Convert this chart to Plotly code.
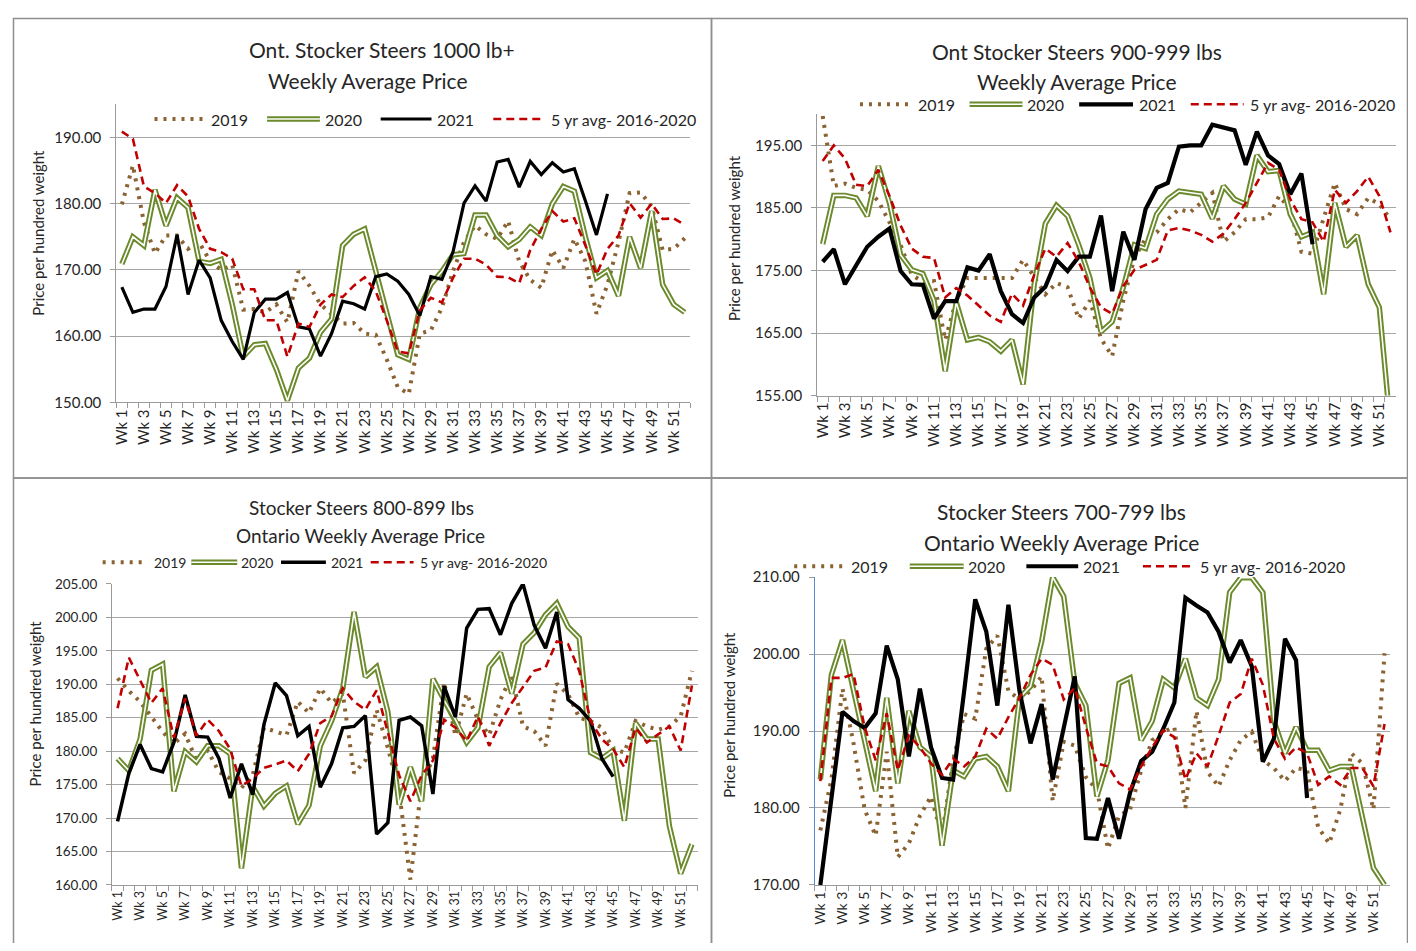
import plotly.graph_objects as go

# The page keeps the browser's 8px body margin: the figure occupies 1400x935 starting at (8, 8)
W, H = 1400, 935
OFF = 8

weeks = [f"Wk {i}" for i in range(1, 53)]
week_ticktext = [w if i % 2 == 0 else "" for i, w in enumerate(weeks)]

# ---------------- Panel 1: Ont. Stocker Steers 1000 lb+ ----------------
p1_2019 = [179.9, 185.8, 177.2, 172.5, 175.2, 175.2, 173.2, 174.2, 171.3, 170.0, 170.8, 164.0, 164.1,
           163.6, 164.8, 162.1, 169.8, 167.6, 164.8, 163.4, 161.9, 162.0, 160.4, 160.2, 156.5, 152.3,
           151.3, 160.4, 160.9, 164.3, 169.8, 174.2, 176.7, 175.4, 174.7, 177.4, 171.3, 168.5, 167.3,
           173.0, 170.3, 174.7, 171.3, 163.4, 167.8, 174.2, 181.6, 181.7, 179.6, 173.0, 173.2, 174.8]
p1_2020 = [170.9, 175.0, 173.7, 182.1, 176.7, 180.9, 179.4, 171.3, 171.0, 171.6, 164.8, 156.9, 158.7,
           158.9, 155.0, 150.3, 155.2, 156.7, 160.6, 162.6, 173.7, 175.4, 176.2, 169.8, 163.4, 157.2,
           156.5, 164.3, 167.8, 169.8, 172.3, 172.5, 178.3, 178.3, 175.2, 173.5, 174.6, 176.5, 175.2,
           180.0, 182.6, 181.9, 175.0, 168.8, 169.9, 166.1, 175.0, 170.3, 178.9, 167.8, 164.8, 163.6]
p1_2021 = [167.4, 163.6, 164.1, 164.1, 167.5, 175.3, 166.3, 171.5, 168.8, 162.4, 159.2, 156.5, 163.6,
           165.6, 165.6, 166.6, 161.4, 161.1, 157.0, 160.4, 165.3, 164.9, 164.1, 169.0, 169.4, 168.3,
           166.3, 163.1, 169.0, 168.6, 172.7, 180.1, 182.7, 180.4, 186.3, 186.7, 182.5, 186.4, 184.4,
           186.2, 184.8, 185.3, 180.4, 175.3, 181.5]
p1_avg = [190.9, 189.8, 182.6, 181.6, 180.1, 182.8, 181.1, 176.2, 173.2, 172.7, 171.7, 167.1, 167.1,
          162.4, 162.4, 156.9, 161.9, 161.4, 164.8, 166.3, 165.9, 167.6, 168.9, 166.8, 162.4, 157.7,
          157.4, 163.9, 165.8, 165.1, 168.8, 171.7, 171.7, 170.8, 169.0, 168.9, 168.0, 173.0, 176.2,
          178.9, 177.3, 177.8, 173.7, 169.3, 173.2, 175.2, 180.1, 177.9, 180.0, 177.7, 177.8, 176.8]

# ---------------- Panel 2: Ont Stocker Steers 900-999 lbs ----------------
p2_2019 = [199.7, 188.5, 188.9, 188.2, 187.9, 186.1, 182.7, 179.1, 174.3, 173.2, 173.3, 163.9, 170.2,
           173.8, 173.8, 173.8, 173.8, 173.8, 176.7, 173.8, 171.2, 173.0, 172.3, 167.3, 170.2, 164.1,
           161.3, 170.2, 177.0, 180.1, 181.1, 183.2, 184.8, 184.3, 185.8, 187.4, 179.6, 181.1, 183.2,
           183.2, 183.5, 186.9, 184.8, 178.0, 177.7, 183.2, 189.0, 184.8, 184.0, 186.6, 185.6, 183.2]
p2_2020 = [179.2, 187.0, 187.0, 186.6, 183.7, 191.7, 185.8, 177.5, 175.1, 174.5, 170.2, 158.9, 169.9,
           163.9, 164.3, 163.6, 162.1, 163.9, 156.8, 172.8, 182.5, 185.4, 183.7, 179.1, 173.8, 165.2,
           166.8, 172.3, 179.1, 178.5, 184.0, 186.4, 187.7, 187.4, 187.2, 183.3, 188.5, 186.4, 185.6,
           193.4, 190.8, 191.0, 184.0, 180.4, 181.1, 171.2, 185.8, 178.8, 180.6, 172.8, 169.1, 150.0]
p2_2021 = [176.4, 178.4, 172.8, 175.7, 178.8, 180.4, 181.7, 174.9, 172.8, 172.7, 167.3, 170.1, 170.1,
           175.5, 175.0, 177.6, 171.7, 168.0, 166.6, 170.7, 172.4, 176.7, 174.9, 177.2, 177.2, 183.8,
           171.7, 181.2, 176.7, 184.8, 188.2, 189.0, 194.8, 195.0, 195.0, 198.3, 197.9, 197.4, 191.9,
           197.2, 193.4, 192.0, 187.2, 190.5, 179.2]
p2_avg = [192.5, 195.0, 192.9, 188.7, 188.5, 191.1, 186.9, 182.2, 178.5, 177.2, 177.0, 170.7, 172.2,
          171.0, 169.4, 167.8, 166.8, 171.3, 169.4, 174.3, 178.5, 177.2, 179.4, 176.4, 172.3, 169.1,
          168.1, 172.5, 175.1, 175.9, 176.7, 181.4, 181.8, 181.4, 180.7, 179.6, 180.9, 183.2, 185.8,
          189.0, 192.2, 191.1, 186.4, 183.2, 182.7, 179.6, 187.9, 185.8, 187.7, 190.0, 186.9, 181.1]

# ---------------- Panel 3: Stocker Steers 800-899 lbs ----------------
p3_2019 = [190.9, 189.0, 187.4, 185.2, 182.9, 181.1, 182.6, 178.6, 180.1, 176.9, 175.9, 174.5, 176.4,
           183.5, 183.0, 182.4, 187.4, 185.7, 189.4, 187.2, 188.6, 176.7, 178.6, 186.2, 180.5, 174.0,
           160.8, 175.0, 178.9, 190.3, 182.3, 188.6, 184.7, 182.4, 187.7, 191.3, 183.7, 183.0, 180.8,
           190.1, 188.5, 185.0, 184.5, 183.5, 180.3, 179.8, 184.5, 183.7, 183.2, 183.7, 185.2, 192.0]
p3_2020 = [178.9, 177.1, 181.8, 192.1, 193.0, 174.0, 179.9, 178.4, 180.8, 180.8, 179.6, 162.5, 174.7,
           171.8, 173.7, 174.8, 169.1, 171.9, 180.8, 184.5, 189.4, 200.8, 191.1, 192.6, 185.9, 172.0,
           177.6, 172.5, 190.8, 187.6, 184.7, 181.3, 183.5, 192.6, 194.7, 188.6, 196.0, 197.7, 200.4,
           202.1, 198.6, 196.9, 179.8, 178.9, 180.1, 169.6, 184.2, 181.8, 181.8, 168.8, 161.7, 166.1]
p3_2021 = [169.5, 176.7, 181.0, 177.4, 176.9, 181.3, 188.4, 182.2, 182.1, 178.9, 173.0, 178.1, 173.5,
           184.0, 190.2, 188.3, 182.3, 183.7, 174.6, 178.1, 183.5, 183.7, 185.3, 167.6, 169.3, 184.6,
           185.1, 183.8, 173.6, 189.7, 185.1, 198.4, 201.2, 201.3, 197.4, 202.1, 205.0, 198.8, 195.4,
           200.8, 187.7, 186.4, 184.5, 178.9, 176.2]
p3_avg = [186.4, 194.0, 190.6, 187.2, 189.4, 182.0, 187.9, 182.3, 184.7, 183.0, 180.3, 174.8, 175.9,
          177.5, 178.0, 178.6, 177.0, 179.6, 184.2, 185.2, 189.4, 187.4, 186.2, 189.1, 182.8, 176.4,
          172.5, 176.4, 178.6, 184.7, 183.5, 181.5, 185.2, 180.8, 184.2, 187.2, 189.6, 192.0, 192.5,
          196.4, 196.0, 192.0, 184.5, 181.8, 180.3, 177.6, 183.5, 181.3, 182.5, 183.7, 180.1, 189.8]

# ---------------- Panel 4: Stocker Steers 700-799 lbs ----------------
p4_2019 = [177.1, 183.7, 195.5, 188.4, 179.8, 176.4, 187.3, 173.6, 175.4, 179.0, 181.5, 176.4, 186.2,
           192.2, 191.6, 200.7, 202.4, 195.2, 194.1, 195.2, 197.1, 180.9, 188.6, 188.1, 184.0, 182.4,
           174.7, 179.0, 179.8, 184.9, 188.8, 189.9, 190.5, 180.0, 192.6, 184.7, 182.8, 186.2, 188.8,
           189.9, 186.2, 185.2, 183.5, 185.2, 184.9, 177.5, 175.4, 179.8, 187.1, 185.8, 179.8, 200.1]
p4_2020 = [183.7, 197.3, 201.8, 195.2, 188.4, 182.2, 194.3, 183.2, 192.6, 187.9, 186.7, 175.1, 184.9,
           184.1, 186.4, 186.7, 185.4, 182.2, 194.3, 195.8, 201.6, 210.0, 207.5, 196.2, 193.3, 181.5,
           186.2, 196.2, 196.9, 188.8, 191.3, 196.7, 195.6, 199.4, 194.3, 193.3, 196.7, 208.0, 209.9,
           209.9, 208.0, 191.3, 187.1, 190.5, 187.5, 187.5, 184.9, 185.4, 185.4, 179.0, 172.2, 170.0]
p4_2021 = [170.0, 181.0, 192.5, 191.3, 190.4, 192.3, 201.1, 196.7, 186.7, 195.5, 187.9, 183.9, 183.7,
           195.2, 207.1, 202.9, 193.3, 206.4, 195.2, 188.4, 193.5, 183.7, 190.1, 197.1, 176.1, 176.0,
           181.3, 176.0, 182.0, 186.1, 187.3, 190.3, 193.7, 207.3, 206.3, 205.4, 202.9, 198.9, 201.8,
           198.4, 186.0, 189.0, 202.0, 199.2, 181.3]
p4_avg = [183.5, 196.9, 196.9, 197.4, 190.5, 186.2, 192.3, 184.9, 189.4, 187.9, 185.8, 184.3, 186.4,
          185.4, 186.7, 190.3, 189.0, 191.8, 194.3, 197.3, 199.4, 198.6, 194.1, 195.6, 190.5, 185.8,
          185.4, 183.2, 182.4, 185.4, 187.9, 190.1, 189.2, 183.7, 187.1, 185.4, 189.4, 193.7, 194.8,
          199.4, 196.0, 189.0, 186.4, 187.9, 187.1, 183.0, 184.1, 183.0, 185.2, 185.2, 182.8, 190.9]

series_names = ["2019", "2020", "2021", "5 yr avg- 2016-2020"]

C_DOT = "#8B6232"
C_GREEN = "#6B8A2C"
C_RED = "#C00000"
C_BLACK = "#000000"
C_GRID = "#A6A6A6"
C_AXIS = "#9A9A9A"
C_TEXT = "#262626"
FONT = "Lato, Carlito, 'Open Sans', sans-serif"
DOT_DASH = "3px,6px"


def fx(px):
    return (px - OFF) / W


def fy(py):
    return 1 - (py - OFF) / H


panels = [
    dict(data=(p1_2019, p1_2020, p1_2021, p1_avg),
         x=(111.7, 687.7), y=(400, 96.1), yr=(150, 195), dtick=10,
         t1=("Ont. Stocker Steers 1000 lb+", 378, 40), t2=("Weekly Average Price", 364, 72), tsize=21,
         ytitle=(33, 227), tick=15, xtick=15, bw=3.2,
         leg=dict(y=111, size=16, items=[(150, 200, 205), (263, 316, 319), (377, 428, 432), (490, 542, 546)])),
    dict(data=(p2_2019, p2_2020, p2_2021, p2_avg),
         x=(815, 1396), y=(393, 106), yr=(155, 200), dtick=10,
         t1=("Ont Stocker Steers 900-999 lbs", 1076, 42), t2=("Weekly Average Price", 1076, 73), tsize=21,
         ytitle=(731, 232), tick=15, xtick=15, bw=4.2,
         leg=dict(y=96, size=16, items=[(858, 910, 914), (968, 1021, 1024), (1078, 1132, 1136), (1190, 1243, 1247)])),
    dict(data=(p3_2019, p3_2020, p3_2021, p3_avg),
         x=(107.3, 695), y=(892, 585), yr=(160, 205), dtick=5,
         t1=("Stocker Steers 800-899 lbs", 358, 507), t2=("Ontario Weekly Average Price", 357, 536), tsize=19,
         ytitle=(30, 707), tick=13.5, xtick=12.5, bw=3.5,
         leg=dict(y=563, size=14, items=[(98, 143, 147), (187, 233, 235), (277, 322, 325), (367, 410, 414)])),
    dict(data=(p4_2019, p4_2020, p4_2021, p4_avg),
         x=(812.7, 1390), y=(892, 578), yr=(170, 210), dtick=10,
         t1=("Stocker Steers 700-799 lbs", 1060, 511), t2=("Ontario Weekly Average Price", 1060, 543), tsize=21,
         ytitle=(727, 718), tick=15, xtick=14, bw=4.2,
         leg=dict(y=567, size=16, items=[(792, 842, 847), (908, 962, 964), (1025, 1077, 1080), (1142, 1193, 1197)])),
]

fig = go.Figure()
shapes = []
annotations = []

for k, p in enumerate(panels):
    n = "" if k == 0 else str(k + 1)
    xa, ya = "x" + n, "y" + n
    d19, d20, d21, davg = p["data"]

    fig.add_trace(go.Scatter(x=weeks[:len(d19)], y=d19, xaxis=xa, yaxis=ya, mode="lines", name="2019",
                             line=dict(color=C_DOT, width=4, dash=DOT_DASH), showlegend=False))
    fig.add_trace(go.Scatter(x=weeks[:len(d20)], y=d20, xaxis=xa, yaxis=ya, mode="lines", name="2020",
                             line=dict(color=C_GREEN, width=5.5), showlegend=False))
    fig.add_trace(go.Scatter(x=weeks[:len(d20)], y=d20, xaxis=xa, yaxis=ya, mode="lines", name="2020",
                             line=dict(color="#FFFFFF", width=1.6), showlegend=False, hoverinfo="skip"))
    fig.add_trace(go.Scatter(x=weeks[:len(d21)], y=d21, xaxis=xa, yaxis=ya, mode="lines", name="2021",
                             line=dict(color=C_BLACK, width=p["bw"]), showlegend=False))
    fig.add_trace(go.Scatter(x=weeks[:len(davg)], y=davg, xaxis=xa, yaxis=ya, mode="lines",
                             name="5 yr avg- 2016-2020",
                             line=dict(color=C_RED, width=2.6, dash="8px,5px"), showlegend=False))

    x0, x1 = p["x"]
    yb, yt = p["y"]
    y_line = C_AXIS if k != 3 else "#5B8BD0"
    fig.update_layout(**{
        "xaxis" + n: dict(domain=[fx(x0), fx(x1)], anchor=ya, type="category",
                          categoryorder="array", categoryarray=weeks,
                          range=[-0.5, 51.5], tickmode="array", tickvals=weeks, ticktext=week_ticktext,
                          tickangle=-90, tickson="boundaries", ticks="outside", ticklen=5,
                          tickcolor=C_AXIS, showline=True, linecolor=C_AXIS, linewidth=1,
                          showgrid=False, zeroline=False,
                          tickfont=dict(family=FONT, size=p["xtick"], color=C_TEXT)),
        "yaxis" + n: dict(domain=[fy(yb), fy(yt)], anchor=xa, range=list(p["yr"]),
                          tick0=p["yr"][0], dtick=p["dtick"], tickformat=".2f",
                          showgrid=True, gridcolor=C_GRID, gridwidth=1, zeroline=False,
                          showline=True, linecolor=y_line, linewidth=1,
                          ticks="outside", ticklen=5, tickcolor=C_AXIS, ticklabelstandoff=6,
                          tickfont=dict(family=FONT, size=p["tick"], color=C_TEXT)),
    })

    # titles
    for txt, cx, cy in (p["t1"], p["t2"]):
        annotations.append(dict(text=txt, x=fx(cx), y=fy(cy), xref="paper", yref="paper",
                                xanchor="center", yanchor="middle", showarrow=False,
                                font=dict(family=FONT, size=p["tsize"], color=C_TEXT)))
    # y-axis title
    annotations.append(dict(text="Price per hundred weight", x=fx(p["ytitle"][0]), y=fy(p["ytitle"][1]),
                            xref="paper", yref="paper", xanchor="center", yanchor="middle",
                            textangle=-90, showarrow=False,
                            font=dict(family=FONT, size=15, color=C_TEXT)))

    # legend (drawn as layout decoration)
    lg = p["leg"]
    ly = fy(lg["y"])
    for (s0, s1, tx), name, idx in zip(lg["items"], series_names, range(4)):
        base = dict(type="line", xref="paper", yref="paper", x0=fx(s0), x1=fx(s1), y0=ly, y1=ly)
        if idx == 0:
            shapes.append(dict(base, line=dict(color=C_DOT, width=4, dash=DOT_DASH)))
        elif idx == 1:
            shapes.append(dict(base, line=dict(color=C_GREEN, width=5.5)))
            shapes.append(dict(base, line=dict(color="#FFFFFF", width=1.6)))
        elif idx == 2:
            shapes.append(dict(base, line=dict(color=C_BLACK, width=p["bw"])))
        else:
            shapes.append(dict(base, line=dict(color=C_RED, width=2.6, dash="8px,5px")))
        annotations.append(dict(text=name, x=fx(tx), y=ly, xref="paper", yref="paper",
                                xanchor="left", yanchor="middle", showarrow=False,
                                font=dict(family=FONT, size=lg["size"], color=C_TEXT)))

# panel borders
for (bx0, by0, bx1, by1) in [(8.5, 8.5, 709, 477), (709, 8.5, 1407.5, 477),
                             (8.5, 477, 709, 960), (709, 477, 1407.5, 960)]:
    shapes.append(dict(type="rect", xref="paper", yref="paper", x0=fx(bx0), x1=fx(bx1),
                       y0=fy(by1), y1=fy(by0), line=dict(color="#8F8F8F", width=1.5), layer="below"))

fig.update_layout(width=W, height=H, margin=dict(l=0, r=0, t=0, b=0), autosize=False,
                  paper_bgcolor="white", plot_bgcolor="white", showlegend=False,
                  shapes=shapes, annotations=annotations,
                  font=dict(family=FONT, color=C_TEXT))

fig.write_html("out.html", config={"displayModeBar": False})
